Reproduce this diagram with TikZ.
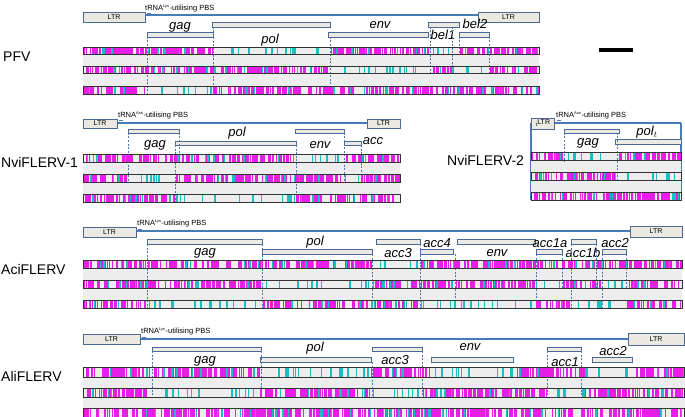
\documentclass[tikz,border=0pt]{standalone}
\usepackage{fontspec}
\setmainfont{Liberation Sans}
\definecolor{boxblue}{HTML}{4A6A95}
\definecolor{boxfill}{HTML}{EAE9E2}
\definecolor{lineblue}{HTML}{4A7AB5}
\definecolor{rowgray}{HTML}{333333}
\definecolor{bgg}{HTML}{EDEDED}
\definecolor{magc}{HTML}{E61EE6}
\definecolor{cync}{HTML}{1EBEBE}
\newcommand\mseg[4]{%
  \pgfmathsetmacro\segW{#2-#1}%
  \pgfmathtruncatemacro\segN{max(1,\segW/1.6)}%
  \foreach \k in {1,...,\segN}{%
    \pgfmathsetmacro\segX{#1+rnd*(\segW-1)}%
    \pgfmathsetmacro\segB{0.4+4*rnd*rnd}%
    \fill[magc] (\segX,#3) rectangle ({min(\segX+\segB,#2)},#4);%
  }%
  \pgfmathtruncatemacro\segC{max(1,\segW/14)}%
  \foreach \k in {1,...,\segC}{%
    \pgfmathsetmacro\segX{#1+rnd*(\segW-1.5)}%
    \pgfmathsetmacro\segB{0.7+1.2*rnd}%
    \fill[cync] (\segX,#3) rectangle (\segX+\segB,#4);%
  }%
}
\newcommand\cseg[4]{%
  \pgfmathsetmacro\segW{#2-#1}%
  \pgfmathtruncatemacro\segN{max(1,\segW/7)}%
  \foreach \k in {1,...,\segN}{%
    \pgfmathsetmacro\segX{#1+rnd*(\segW-2)}%
    \pgfmathsetmacro\segB{0.7+1.3*rnd}%
    \fill[cync] (\segX,#3) rectangle (\segX+\segB,#4);%
  }%
}
\tikzset{
  ltrbox/.style={draw=boxblue, fill=boxfill, line width=0.8pt},
  genebox/.style={draw=boxblue, fill=boxfill, line width=0.8pt},
  bbline/.style={draw=lineblue, line width=1.1pt},
  pbsmark/.style={draw=lineblue, line width=1pt},
  orfdash/.style={draw=lineblue, dashed, dash pattern=on 2pt off 1.5pt, line width=0.5pt},
  rowline/.style={draw=rowgray, line width=0.9pt},
  genelab/.style={font=\fontsize{13}{13}\selectfont\itshape, inner sep=0},
  panellab/.style={font=\fontsize{14}{14}\selectfont, inner sep=0, anchor=west},
  ltrlab/.style={font=\fontsize{7}{7}\selectfont, inner sep=0},
  pbslab/.style={font=\fontsize{7.5}{8}\selectfont, inner sep=0, anchor=west},
}
\begin{document}
\begin{tikzpicture}[x=1pt,y=-1pt]
\useasboundingbox (0,0) rectangle (685,417);
\fill[white] (0,0) rectangle (685,417);
\pgfmathsetseed{4711}

% ================= PFV =================
\node[panellab] (lpfv) at (3,57) {PFV};
\draw[bbline] (145,15) -- (478,15);
\draw[ltrbox] (83,12) rectangle (145,22);
\node[ltrlab] (pfvltra) at (114,17) {LTR};
\draw[ltrbox] (478,12) rectangle (539,22);
\node[ltrlab] (pfvltrb) at (508.5,17) {LTR};
\node[pbslab] (pfvpbs) at (145,8) {tRNA\textsuperscript{\fontsize{4}{4}\selectfont Lys}-utilising PBS};
\draw[pbsmark] (147,13.5) -- (151,13.5);
\draw[genebox] (147,32) rectangle (213,37);
\draw[genebox] (212,22) rectangle (330,27);
\draw[genebox] (328,32) rectangle (428,37);
\draw[genebox] (428,22) rectangle (459,27);
\draw[genebox] (459,32) rectangle (489,37);
\node[genelab] (pfvgag) at (180,27) {gag};
\node[genelab] (pfvpol) at (270,40) {pol};
\node[genelab] (pfvenv) at (380,25) {env};
\node[genelab] (pfvbela) at (443,35) {bel1};
\node[genelab] (pfvbelb) at (475,24) {bel2};
\fill[bgg] (83,47) rectangle (539,94);
\draw[orfdash] (147,37) -- (147,94);
\draw[orfdash] (213,27) -- (213,94);
\draw[orfdash] (330,37) -- (330,94);
\draw[orfdash] (430,27) -- (430,73);
\draw[orfdash] (452,27) -- (452,73);
\draw[orfdash] (459,37) -- (459,54);
\draw[orfdash] (489,37) -- (489,73);
\mseg{83}{213}{47}{54}\cseg{213}{330}{47}{54}\mseg{330}{430}{47}{54}\cseg{430}{459}{47}{54}\mseg{459}{539}{47}{54}
\mseg{83}{330}{66}{73}\cseg{330}{430}{66}{73}\mseg{430}{452}{66}{73}\cseg{452}{489}{66}{73}\mseg{489}{539}{66}{73}
\mseg{83}{147}{86}{94}\cseg{147}{213}{86}{94}\mseg{213}{539}{86}{94}
\draw[rowline] (83,47) rectangle (539,54);
\draw[rowline] (83,66) rectangle (539,73);
\draw[rowline] (83,86) rectangle (539,94);
\draw[line width=3.2pt] (599,50) -- (633,50);

% ================= NviFLERV-1 =================
\node[panellab] (lnvia) at (1,162) {NviFLERV-1};
\draw[bbline] (117,123) -- (367,123);
\draw[ltrbox] (83,119) rectangle (117,128);
\node[ltrlab] (nviltra) at (100,123.5) {LTR};
\draw[ltrbox] (367,119) rectangle (400,128);
\node[ltrlab] (nviltrb) at (383.5,123.5) {LTR};
\node[pbslab] (nvipbs) at (118,115) {tRNA\textsuperscript{\fontsize{4}{4}\selectfont Asn}-utilising PBS};
\draw[pbsmark] (119,121) -- (123,121);
\draw[genebox] (128,129) rectangle (179,133);
\draw[genebox] (175,141) rectangle (296,145);
\draw[genebox] (295,129) rectangle (344,133);
\draw[genebox] (344,141) rectangle (361,145);
\node[genelab] (nvigag) at (155,145) {gag};
\node[genelab] (nvipol) at (237,133) {pol};
\node[genelab] (nvienv) at (320,145) {env};
\node[genelab] (nviacc) at (373,141) {acc};
\fill[bgg] (83,154) rectangle (400,202);
\draw[orfdash] (128,133) -- (128,182);
\draw[orfdash] (179,133) -- (179,162);
\draw[orfdash] (175,145) -- (175,202);
\draw[orfdash] (296,145) -- (296,202);
\draw[orfdash] (344,133) -- (344,182);
\draw[orfdash] (361,145) -- (361,173);
\mseg{83}{295}{154}{162}\cseg{295}{344}{154}{162}\mseg{344}{400}{154}{162}
\mseg{83}{128}{174}{182}\cseg{128}{175}{174}{182}\mseg{175}{344}{174}{182}\cseg{344}{361}{174}{182}\mseg{361}{400}{174}{182}
\mseg{83}{175}{194}{202}\cseg{175}{296}{194}{202}\mseg{296}{400}{194}{202}
\draw[rowline] (83,154) rectangle (400,162);
\draw[rowline] (83,174) rectangle (400,182);
\draw[rowline] (83,194) rectangle (400,202);

% ================= NviFLERV-2 =================
\node[panellab] (lnvib) at (447,160) {NviFLERV-2};
\draw[bbline] (554,123) -- (681,123);
\draw[bbline] (531,123) -- (531,200);
\draw[bbline] (681,123) -- (681,200);
\draw[ltrbox] (531,118) rectangle (554,129);
\node[ltrlab] (nvbltr) at (543,123) {\raisebox{-2.5pt}{\fontsize{5}{5}\selectfont t}LTR};
\node[pbslab] (nvbpbs) at (556,115) {tRNA\textsuperscript{\fontsize{4}{4}\selectfont Asn}-utilising PBS};
\draw[pbsmark] (557,121) -- (561,121);
\draw[genebox] (564,129) rectangle (619,133);
\draw[genebox] (615,139) rectangle (681,144);
\node[genelab] (nvbgag) at (588,143) {gag};
\node[genelab] (nvbpol) at (647,132) {pol$_{t}$};
\fill[bgg] (531,152) rectangle (681,200);
\draw[orfdash] (564,133) -- (564,162);
\draw[orfdash] (617,133) -- (617,182);
\mseg{531}{564}{152}{160}\cseg{564}{617}{152}{160}\mseg{617}{681}{152}{160}
\mseg{531}{615}{172}{180}\cseg{615}{681}{172}{180}
\mseg{531}{681}{192}{200}
\draw[rowline] (531,152) rectangle (681,160);
\draw[rowline] (531,172) rectangle (681,180);
\draw[rowline] (531,192) rectangle (681,200);

% ================= AciFLERV =================
\node[panellab] (laci) at (1,269) {AciFLERV};
\draw[bbline] (136,231) -- (630,231);
\draw[ltrbox] (83,227) rectangle (136,237);
\node[ltrlab] (aciltra) at (109.5,232) {LTR};
\draw[ltrbox] (630,226) rectangle (682,237);
\node[ltrlab] (aciltrb) at (656,231.5) {LTR};
\node[pbslab] (acipbs) at (137,223) {tRNA\textsuperscript{\fontsize{4}{4}\selectfont Lys}-utilising PBS};
\draw[pbsmark] (138,229) -- (142,229);
\draw[genebox] (147,239) rectangle (262,244);
\draw[genebox] (262,249) rectangle (372,254);
\draw[genebox] (376,239) rectangle (420,244);
\draw[genebox] (420,249) rectangle (453,254);
\draw[genebox] (457,239) rectangle (535,244);
\draw[genebox] (536,249) rectangle (562,254);
\draw[genebox] (571,239) rectangle (596,244);
\draw[genebox] (602,249) rectangle (626,254);
\node[genelab] (acigag) at (205,253) {gag};
\node[genelab] (acipol) at (315,242) {pol};
\node[genelab] (aciaccc) at (398,253) {acc3};
\node[genelab] (aciaccd) at (437,243) {acc4};
\node[genelab] (acienv) at (497,253) {env};
\node[genelab] (aciacca) at (550,243) {acc1a};
\node[genelab] (aciaccb) at (583,253) {acc1b};
\node[genelab] (aciaccz) at (615,243) {acc2};
\fill[bgg] (83,260) rectangle (682,308);
\draw[orfdash] (147,244) -- (147,308);
\draw[orfdash] (262,244) -- (262,308);
\draw[orfdash] (372,254) -- (372,308);
\draw[orfdash] (420,244) -- (420,308);
\draw[orfdash] (455,254) -- (455,308);
\draw[orfdash] (536,254) -- (536,308);
\draw[orfdash] (562,254) -- (562,288);
\draw[orfdash] (571,244) -- (571,308);
\draw[orfdash] (596,244) -- (596,288);
\draw[orfdash] (602,254) -- (602,308);
\draw[orfdash] (626,254) -- (626,288);
\mseg{83}{372}{260}{268}\cseg{372}{420}{260}{268}\mseg{420}{682}{260}{268}
\mseg{83}{262}{280}{288}\cseg{262}{372}{280}{288}\mseg{372}{536}{280}{288}\cseg{536}{562}{280}{288}\mseg{562}{602}{280}{288}\cseg{602}{626}{280}{288}\mseg{626}{682}{280}{288}
\mseg{83}{147}{300}{308}\cseg{147}{262}{300}{308}\mseg{262}{420}{300}{308}\cseg{420}{535}{300}{308}\mseg{535}{571}{300}{308}\cseg{571}{626}{300}{308}\mseg{626}{682}{300}{308}
\draw[rowline] (83,260) rectangle (682,268);
\draw[rowline] (83,280) rectangle (682,288);
\draw[rowline] (83,300) rectangle (682,308);

% ================= AliFLERV =================
\node[panellab] (lali) at (1,376) {AliFLERV};
\draw[bbline] (140,339) -- (628,339);
\draw[ltrbox] (83,334) rectangle (140,344);
\node[ltrlab] (aliltra) at (111.5,339) {LTR};
\draw[ltrbox] (628,333) rectangle (684.5,345);
\node[ltrlab] (aliltrb) at (656,339) {LTR};
\node[pbslab] (alipbs) at (141,331) {tRNA\textsuperscript{\fontsize{4}{4}\selectfont Lys}-utilising PBS};
\draw[pbsmark] (142,337) -- (146,337);
\draw[genebox] (152,347) rectangle (261,351);
\draw[genebox] (260,357) rectangle (371,362);
\draw[genebox] (372,347) rectangle (422,351);
\draw[genebox] (431,357) rectangle (513,362);
\draw[genebox] (547,347) rectangle (581,351);
\draw[genebox] (592,357) rectangle (632,362);
\node[genelab] (aligag) at (205,361) {gag};
\node[genelab] (alipol) at (315,348) {pol};
\node[genelab] (aliaccc) at (395,360) {acc3};
\node[genelab] (alienv) at (470,347) {env};
\node[genelab] (aliacca) at (565,362) {acc1};
\node[genelab] (aliaccb) at (613,351) {acc2};
\fill[bgg] (83,367) rectangle (685,420);
\draw[orfdash] (152,351) -- (152,397);
\draw[orfdash] (261,351) -- (261,397);
\draw[orfdash] (372,362) -- (372,397);
\draw[orfdash] (422,351) -- (422,397);
\draw[orfdash] (547,351) -- (547,397);
\draw[orfdash] (581,351) -- (581,397);
\mseg{83}{260}{367}{377}\cseg{260}{371}{367}{377}\mseg{371}{431}{367}{377}\cseg{431}{513}{367}{377}\mseg{513}{592}{367}{377}\cseg{592}{632}{367}{377}\mseg{632}{685}{367}{377}
\mseg{83}{152}{388}{397}\cseg{152}{260}{388}{397}\mseg{260}{372}{388}{397}\cseg{372}{422}{388}{397}\mseg{422}{547}{388}{397}\cseg{547}{581}{388}{397}\mseg{581}{685}{388}{397}
\mseg{83}{685}{408}{420}
\draw[rowline] (83,367) rectangle (684.6,377);
\draw[rowline] (83,388) rectangle (684.6,397);
\draw[rowline] (83,408) rectangle (684.6,420);
\end{tikzpicture}
\end{document}
